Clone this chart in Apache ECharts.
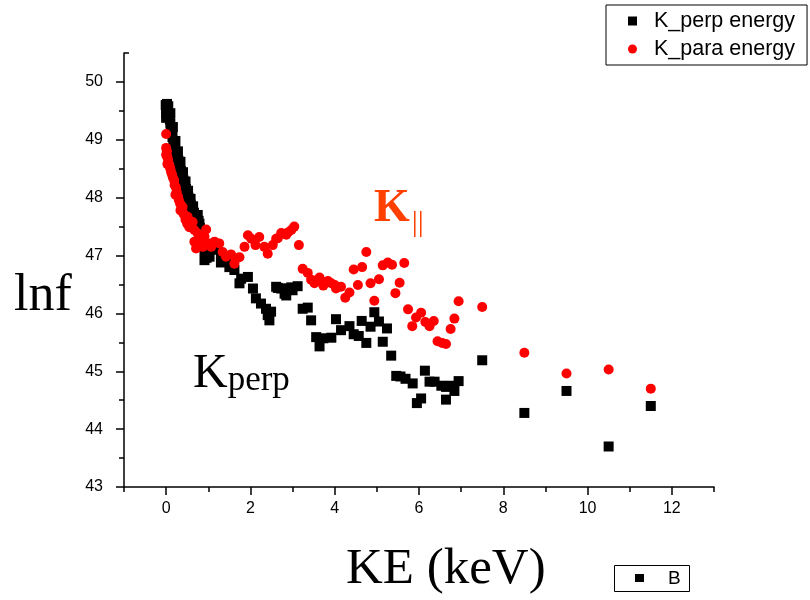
<!DOCTYPE html>
<html>
<head>
<meta charset="utf-8">
<script src="https://cdn.jsdelivr.net/npm/echarts@6/dist/echarts.min.js"></script>
<style>html,body{margin:0;padding:0;background:#fff;}#c{width:810px;height:600px;}</style>
</head>
<body>
<div id="c"></div>
<script>
// ---- data ----
const seriesNames = ['K_perp energy', 'K_para energy'];
const xMajorTicks = [0, 2, 4, 6, 8, 10, 12];
const xMinorTicks = [-1, 1, 3, 5, 7, 9, 11, 13];
const yMajorTicks = [43, 44, 45, 46, 47, 48, 49, 50];
const yMinorTicks = [43.5, 44.5, 45.5, 46.5, 47.5, 48.5, 49.5];

const kPerp = [
  [-0.01,49.6],[0.02,49.62],[0.05,49.58],[0.0,49.52],[0.03,49.5],[0.0,49.45],[0.04,49.42],[0.0,49.38],
  [0.07,49.4],[0.09,49.35],[0.1,49.46],[0.1,49.28],[0.12,49.2],[0.16,49.22],[0.14,49.12],[0.15,49.05],
  [0.17,48.98],[0.22,48.98],[0.19,48.92],[0.21,48.86],[0.23,48.8],[0.28,48.8],[0.25,48.75],[0.27,48.7],
  [0.29,48.64],[0.34,48.62],[0.31,48.58],[0.33,48.52],[0.35,48.46],[0.4,48.44],[0.37,48.4],[0.39,48.36],
  [0.41,48.3],[0.46,48.28],[0.43,48.25],[0.45,48.2],[0.47,48.15],[0.52,48.12],[0.49,48.1],[0.51,48.05],
  [0.53,48.0],[0.58,47.98],[0.55,47.92],[0.58,47.88],[0.6,47.82],[0.64,47.85],[0.63,47.78],[0.66,47.74],
  [0.7,47.7],[0.73,47.66],[0.75,47.7],[0.77,47.6],[0.79,47.55],[0.8,47.48],[0.82,47.4],[0.83,47.32],
  [0.86,47.25],[0.88,47.18],[0.91,47.09],[0.93,47.02],[0.91,46.92],[0.96,46.96],[1.03,46.98],[1.11,47.12],
  [1.2,47.1],[1.3,47.03],[1.3,46.88],[1.42,46.92],[1.5,46.8],[1.62,46.75],[1.74,46.52],[1.78,46.6],
  [1.94,46.63],[2.06,46.43],[2.13,46.26],[2.25,46.17],[2.37,46.08],[2.41,45.97],[2.49,46.03],[2.45,45.88],
  [2.61,46.46],[2.65,46.44],[2.73,46.43],[2.81,46.34],[2.85,46.31],[2.9,46.43],[2.97,46.45],[3.0,46.4],
  [3.12,46.47],[3.24,46.08],[3.36,46.1],[3.44,45.88],[3.56,45.59],[3.64,45.43],[3.73,45.57],[3.92,45.58],
  [4.03,45.9],[4.15,45.71],[4.35,45.78],[4.45,45.64],[4.57,45.61],[4.64,45.87],[4.75,45.49],[4.85,45.77],
  [4.94,46.02],[5.05,45.86],[5.14,45.51],[5.24,45.74],[5.34,45.27],[5.46,44.92],[5.56,44.91],[5.68,44.87],
  [5.85,44.79],[5.95,44.45],[6.05,44.53],[6.14,45.01],[6.25,44.82],[6.37,44.82],[6.53,44.75],[6.64,44.73],
  [6.64,44.51],[6.75,44.75],[6.84,44.66],[6.94,44.83],[7.5,45.19],[8.5,44.28],[9.5,44.66],[10.5,43.7],
  [11.5,44.4]
];

const kPara = [
  [0.0,49.1],[0.0,48.86],[0.02,48.8],[0.0,48.74],[0.03,48.7],[0.05,48.64],[0.03,48.58],[0.08,48.55],
  [0.1,48.5],[0.12,48.44],[0.14,48.4],[0.16,48.35],[0.19,48.3],[0.2,48.22],[0.23,48.18],[0.25,48.1],
  [0.22,48.05],[0.28,48.02],[0.3,47.96],[0.33,47.9],[0.36,47.86],[0.39,47.84],[0.34,47.78],[0.4,47.74],
  [0.43,47.7],[0.51,47.67],[0.46,47.62],[0.55,47.6],[0.63,47.58],[0.5,47.55],[0.55,47.49],[0.67,47.44],
  [0.75,47.38],[0.95,47.45],[0.91,47.33],[0.83,47.29],[0.67,47.24],[0.71,47.12],[0.87,47.15],[1.03,47.21],
  [1.15,47.24],[1.26,47.21],[1.07,47.15],[1.34,47.06],[1.54,47.02],[1.42,46.98],[1.66,46.95],[1.74,46.97],
  [1.62,46.86],[1.86,47.15],[1.94,47.35],[2.02,47.29],[2.12,47.18],[2.21,47.32],[2.33,47.15],[2.41,47.03],
  [2.53,47.18],[2.61,47.29],[2.65,47.3],[2.73,47.39],[2.85,47.36],[2.89,47.4],[2.97,47.44],[3.04,47.5],
  [3.15,47.18],[3.24,46.77],[3.36,46.7],[3.44,46.58],[3.52,46.52],[3.56,46.57],[3.64,46.62],[3.73,46.48],
  [3.76,46.54],[3.84,46.56],[3.92,46.52],[4.0,46.49],[4.03,46.43],[4.15,46.46],[4.25,46.27],[4.35,46.36],
  [4.45,46.76],[4.55,46.49],[4.65,46.8],[4.75,47.06],[4.85,46.52],[4.94,46.22],[5.05,46.59],[5.14,46.83],
  [5.26,46.88],[5.36,46.84],[5.44,46.35],[5.54,46.53],[5.65,46.87],[5.74,46.07],[5.84,45.78],[5.93,45.93],
  [6.05,46.01],[6.15,45.85],[6.25,45.78],[6.35,45.87],[6.44,45.52],[6.55,45.49],[6.64,45.47],[6.75,45.73],
  [6.84,45.91],[6.94,46.21],[7.5,46.11],[8.5,45.32],[9.5,44.96],[10.5,45.03],[11.5,44.7]
];

// ---- chart ----
const chart = echarts.init(document.getElementById('c'), null, {renderer: 'canvas'});
const AX = {color: '#000', width: 1.5};
const sans = 'Arial, "Liberation Sans", sans-serif';
const serif = '"Times New Roman", "Liberation Serif", serif';

const baseX = {type: 'value', min: -1, max: 13, gridIndex: 0, position: 'bottom', offset: 0, splitLine: {show: false}};
const baseY = {type: 'value', min: 43, max: 50.5, gridIndex: 0, position: 'left', offset: 0, splitLine: {show: false}};

chart.setOption({
  animation: false,
  backgroundColor: '#fff',
  grid: {left: 124, right: 96, top: 53, bottom: 113, containLabel: false},
  legend: {
    data: seriesNames,
    orient: 'vertical',
    left: 606, top: 5,
    padding: [5, 12, 5, 22],
    itemGap: 6,
    itemWidth: 9, itemHeight: 9,
    borderColor: '#000', borderWidth: 1,
    textStyle: {fontSize: 21.5, fontFamily: sans, color: '#000', padding: [0, 0, 0, 12]}
  },
  xAxis: [
    Object.assign({}, baseX, {
      axisLine: {show: true, onZero: false, lineStyle: AX},
      axisTick: {show: true, length: 8, lineStyle: AX, customValues: xMajorTicks},
      axisLabel: {show: true, margin: 14, fontSize: 16, fontFamily: sans, color: '#000', customValues: xMajorTicks}
    }),
    Object.assign({}, baseX, {
      axisLine: {show: false, onZero: false},
      axisTick: {show: true, length: 5, lineStyle: AX, customValues: xMinorTicks},
      axisLabel: {show: false}
    })
  ],
  yAxis: [
    Object.assign({}, baseY, {
      axisLine: {show: true, onZero: false, lineStyle: AX},
      axisTick: {show: true, length: 8, lineStyle: AX, customValues: yMajorTicks},
      axisLabel: {show: true, margin: 21, fontSize: 16, fontFamily: sans, color: '#000', customValues: yMajorTicks}
    }),
    Object.assign({}, baseY, {
      axisLine: {show: false, onZero: false},
      axisTick: {show: true, length: 5, lineStyle: AX, customValues: yMinorTicks},
      axisLabel: {show: false}
    }),
    Object.assign({}, baseY, {
      axisLine: {show: false, onZero: false},
      axisTick: {show: true, inside: true, length: 5, lineStyle: AX, customValues: [50.5]},
      axisLabel: {show: false}
    })
  ],
  series: [
    {name: seriesNames[0], type: 'scatter', xAxisIndex: 0, yAxisIndex: 0, data: kPerp,
     symbol: 'rect', symbolSize: 10, itemStyle: {color: '#000', opacity: 1}},
    {name: seriesNames[1], type: 'scatter', xAxisIndex: 0, yAxisIndex: 0, data: kPara,
     symbol: 'circle', symbolSize: 10, itemStyle: {color: '#ff0000', opacity: 1}}
  ],
  graphic: [
    {type: 'text', left: 14, top: 270, style: {text: 'lnf', font: '52px ' + serif, fill: '#000'}},
    {type: 'text', left: 346, top: 544, style: {text: 'KE (keV)', font: '51px ' + serif, fill: '#000'}},
    {type: 'text', left: 193, top: 350, style: {
      text: '{a|K}{b|perp}', fill: '#000',
      rich: {a: {fontSize: 48, fontFamily: serif, color: '#000', verticalAlign: 'bottom'},
             b: {fontSize: 35, fontFamily: serif, color: '#000', verticalAlign: 'bottom'}}
    }},
    {type: 'text', left: 374, top: 186, style: {
      text: '{a|K}{b|||}', fill: '#ff4000',
      rich: {a: {fontSize: 46, fontWeight: 'bold', fontFamily: serif, color: '#ff4000', verticalAlign: 'bottom'},
             b: {fontSize: 30, fontFamily: serif, color: '#ff4000', verticalAlign: 'bottom', padding: [0, 0, -6, 2]}}
    }},
    {type: 'rect', shape: {x: 614.5, y: 565.5, width: 75, height: 26}, style: {fill: '#fff', stroke: '#000', lineWidth: 1}},
    {type: 'rect', shape: {x: 635, y: 574, width: 9, height: 8}, style: {fill: '#000'}},
    {type: 'text', left: 668, top: 569, style: {text: 'B', font: '19px ' + sans, fill: '#000'}}
  ]
});
</script>
</body>
</html>
